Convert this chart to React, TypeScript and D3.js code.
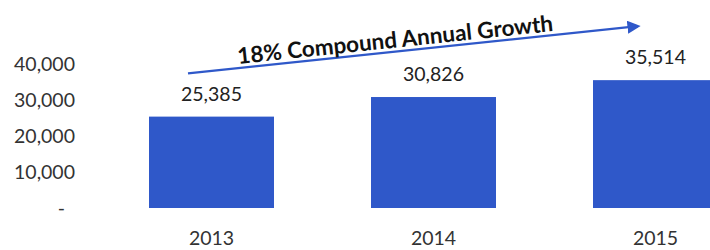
import React from 'react';
import * as d3 from 'd3';

const years = ['2013', '2014', '2015'];
const visitors = [25385, 30826, 35514];
const yTicks = [0, 10000, 20000, 30000, 40000];
const growthLabel = '18% Compound Annual Growth';

const W = 710;
const H = 250;
const FONT = 'Lato, "Open Sans", sans-serif';
const BLUE = '#2f58c9';

export default function App() {
  const x = d3.scaleBand<string>()
    .domain(years)
    .range([100.5, 766.5])
    .paddingInner(0.437)
    .paddingOuter(0.2185);

  const y = d3.scaleLinear().domain([0, 40000]).range([208, 64]);

  const fmt = d3.format(',');

  // growth arrow, anchored to the first and last bars
  const ax1 = (x('2013') as number) + 39;
  const ay1 = y(37400);
  const ax2 = (x('2015') as number) + 45;
  const ay2 = y(50500);
  const angle = (Math.atan2(ay2 - ay1, ax2 - ax1) * 180) / Math.PI;
  const tx = 396;
  const ty = ay1 + (ay2 - ay1) * ((tx - ax1) / (ax2 - ax1)) - 4;

  return (
    <div style={{ position: 'absolute', left: 0, top: 0 }}>
      <svg width={W} height={H} style={{ display: 'block', background: '#fff' }}>
        <defs>
          <marker id="arrow" viewBox="0 0 10 10" refX="8" refY="5" markerWidth="6" markerHeight="6" orient="auto">
            <path d="M0,0 L10,5 L0,10 z" fill={BLUE} />
          </marker>
        </defs>

        {/* y axis labels */}
        {yTicks.map(t => (
          <text
            key={t}
            x={t === 0 ? 65 : 75}
            y={y(t)}
            dy="0.35em"
            textAnchor="end"
            fontFamily={FONT}
            fontSize={19.5}
            fill="#333"
          >
            {t === 0 ? '-' : fmt(t)}
          </text>
        ))}

        {/* bars */}
        {years.map((yr, i) => (
          <rect
            key={yr}
            x={x(yr)}
            y={y(visitors[i])}
            width={x.bandwidth()}
            height={y(0) - y(visitors[i])}
            fill={BLUE}
          />
        ))}

        {/* value labels */}
        {years.map((yr, i) => (
          <text
            key={yr}
            x={(x(yr) as number) + x.bandwidth() / 2}
            y={y(visitors[i]) - 16}
            textAnchor="middle"
            fontFamily={FONT}
            fontSize={19.5}
            fill="#222"
          >
            {fmt(visitors[i])}
          </text>
        ))}

        {/* category labels */}
        {years.map(yr => (
          <text
            key={yr}
            x={(x(yr) as number) + x.bandwidth() / 2}
            y={245}
            textAnchor="middle"
            fontFamily={FONT}
            fontSize={19.5}
            fill="#333"
          >
            {yr}
          </text>
        ))}

        {/* growth arrow */}
        <line x1={ax1} y1={ay1} x2={ax2} y2={ay2} stroke={BLUE} strokeWidth={2.2} markerEnd="url(#arrow)" />
        <text
          x={tx}
          y={ty}
          textAnchor="middle"
          fontFamily={FONT}
          fontWeight="bold"
          fontSize={22.5}
          fill="#111"
          transform={`rotate(${angle},${tx},${ty})`}
        >
          {growthLabel}
        </text>
      </svg>
    </div>
  );
}
